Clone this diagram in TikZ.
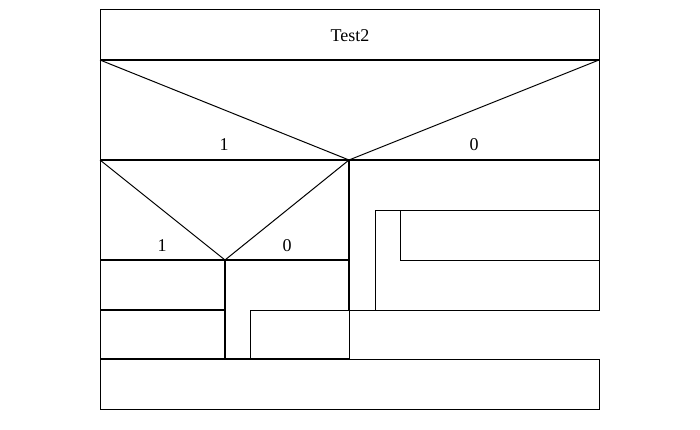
\documentclass[tikz,border=0pt]{standalone}
\usepackage{fontspec}
\setmainfont{Liberation Serif}
\begin{document}
\begin{tikzpicture}[x=1pt,y=-1pt,
  thin line/.style={line width=1pt},
  thick line/.style={line width=2pt},
  lbl/.style={anchor=base,inner sep=0pt,font=\fontsize{18}{20}\selectfont}]
\useasboundingbox (0,0) rectangle (700,430);
% outer thin frame parts
\draw[thin line] (599,60) -- (599,10) -- (100,10) -- (100,409) -- (599,409) -- (599,359) -- (100,359);
\draw[thin line] (599,60) -- (599,310) -- (349,310) -- (349,359);
% diagonals
\draw[thin line] (100,60) -- (349,160) -- (599,60);
\draw[thin line] (100,160) -- (225,260) -- (349,160);
% inner loops
\draw[thin line] (375,210) rectangle (599,310);
\draw[thin line] (400,210) rectangle (599,260);
\draw[thin line] (250,310) rectangle (349,359);
% thick separators
\draw[thick line] (100,60) -- (599,60);
\draw[thick line] (100,160) -- (599,160);
\draw[thick line] (349,160) -- (349,310);
\draw[thick line] (100,260) -- (349,260);
\draw[thick line] (225,260) -- (225,359);
\draw[thick line] (100,310) -- (225,310);
\draw[thick line] (100,359) -- (349,359);
% labels
\node[lbl] (title) at (350,42) {Test2};
\node[lbl] (t1) at (224,151) {1};
\node[lbl] (f1) at (474,151) {0};
\node[lbl] (t2) at (162,251) {1};
\node[lbl] (f2) at (287,251) {0};
\end{tikzpicture}
\end{document}
